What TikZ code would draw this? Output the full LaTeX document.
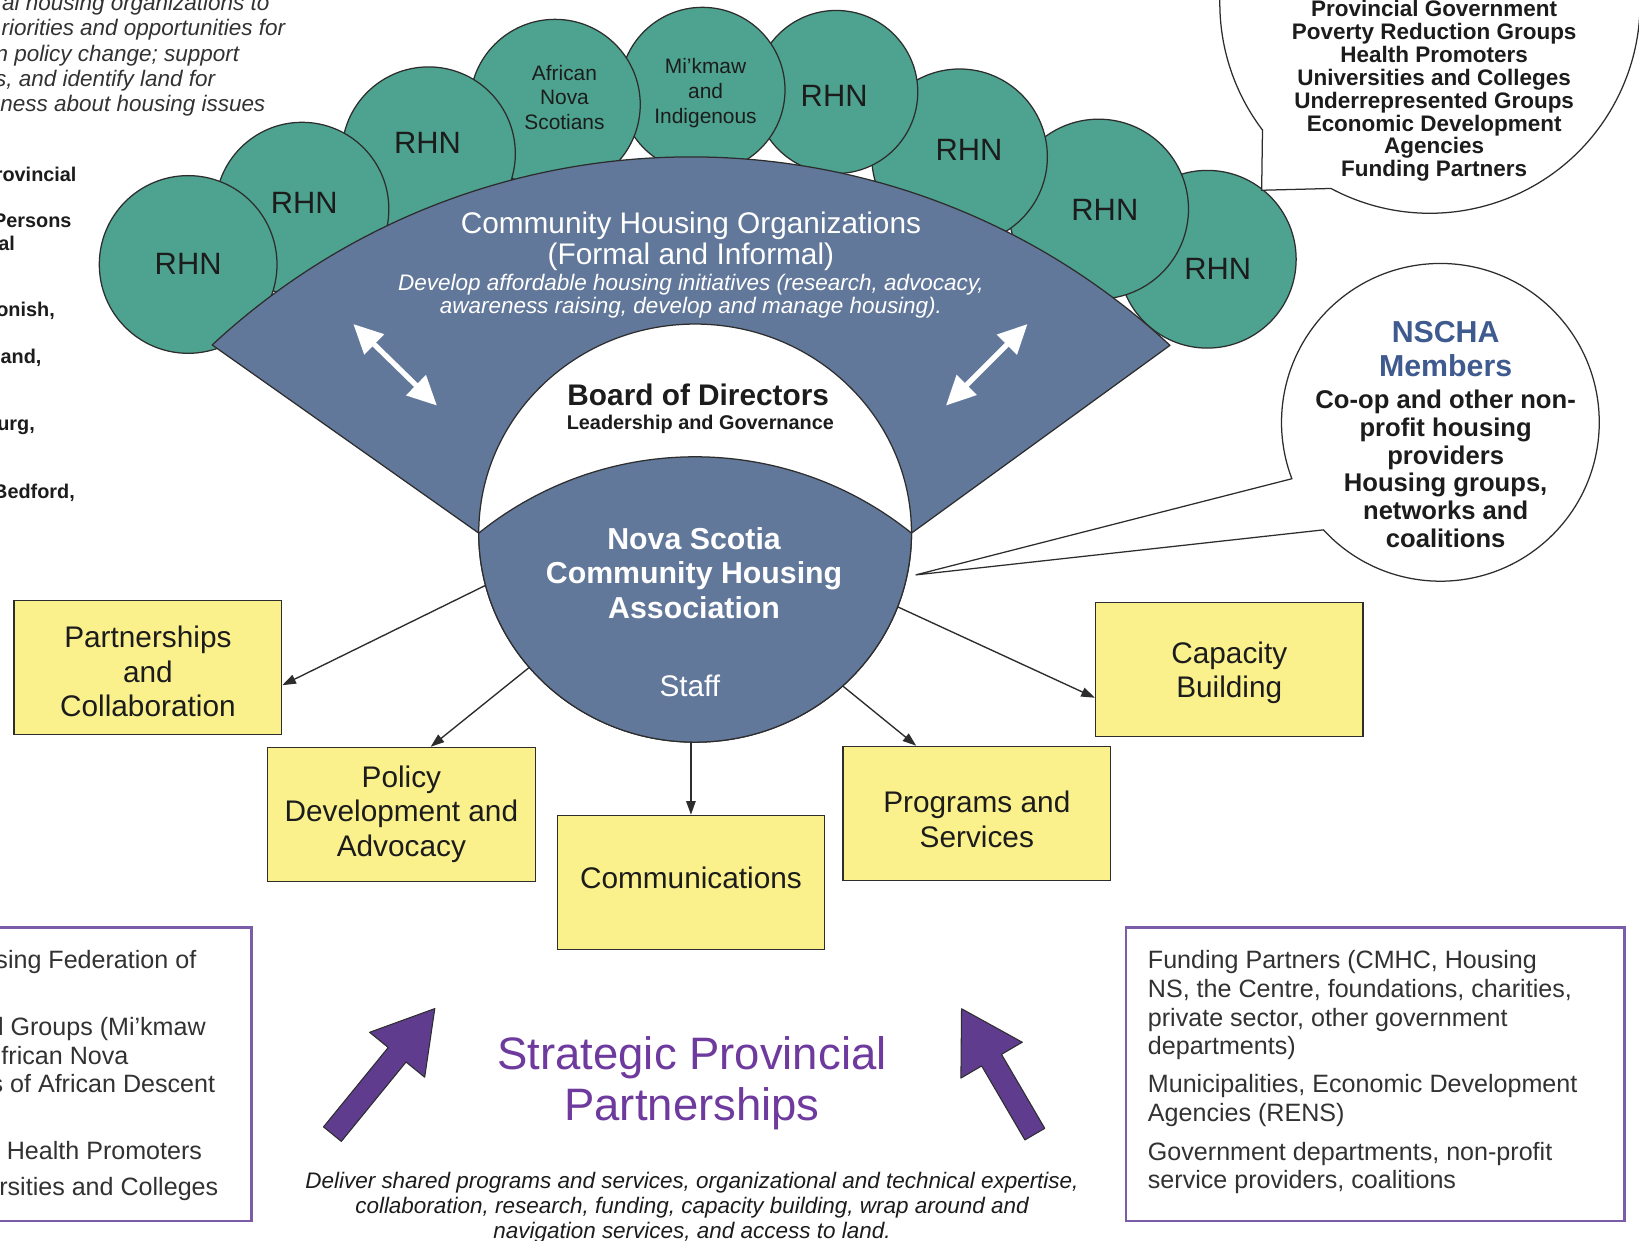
\documentclass[tikz,border=0pt]{standalone}
\usepackage{fontspec}
\setmainfont{Liberation Sans}
\usetikzlibrary{arrows.meta,shapes.geometric}
\definecolor{tealc}{RGB}{77,163,143}
\definecolor{fanblue}{RGB}{98,120,154}
\definecolor{yboxc}{RGB}{250,241,140}
\definecolor{parrc}{RGB}{95,60,142}
\definecolor{ptextc}{RGB}{110,58,158}
\definecolor{pboxc}{RGB}{122,92,168}
\definecolor{ntextc}{RGB}{62,90,142}
\definecolor{darkc}{RGB}{28,28,28}
\definecolor{edgec}{RGB}{45,45,45}
\definecolor{gtextc}{RGB}{50,50,50}
\newcommand{\myfs}[2]{\fontsize{#1}{#2}\selectfont}
\begin{document}
\begin{tikzpicture}[x=1pt,y=-1pt,
  rhn/.style={circle, draw=edgec, line width=1.2pt, fill=tealc, inner sep=0pt, outer sep=0pt},
  rhnt/.style={text=darkc, font=\myfs{29.5}{32}, inner sep=0pt},
  smallt/.style={text=darkc, font=\myfs{20}{23.5}, align=center, inner sep=0pt},
  ybx/.style={draw=edgec, line width=1.2pt, fill=yboxc, text=darkc, font=\myfs{28.5}{33}, align=center, minimum width=256, minimum height=128, inner sep=0pt},
  conn/.style={draw=edgec, line width=1.3pt, -{Triangle[length=13pt,width=9pt]}},
  warr/.style={white, line width=5pt, {Triangle[length=28pt,width=26pt]}-{Triangle[length=28pt,width=26pt]}},
  parrow/.style={fill=parrc, draw=edgec, line width=1pt, line join=round},
  bubble/.style={draw=edgec, line width=1.2pt, fill=white},
  pbx/.style={draw=pboxc, line width=2.5pt, inner sep=0pt},
  tli/.style={font=\itshape\myfs{21.5}{24}, text=gtextc, inner sep=0pt},
  tlb/.style={font=\bfseries\myfs{19}{21}, text=darkc, inner sep=0pt},
  bt/.style={font=\myfs{24}{27.3}, text=gtextc, inner sep=0pt}
]
\useasboundingbox (0,0) rectangle (1568,1187);
\fill[white] (0,0) rectangle (1568,1187);
\begin{scope}
\clip (0,0) rectangle (1568,1187);

% ---- top-left cut-off texts
\node[tli, anchor=base east] (tl1) at (258,10) {al housing organizations to};
\node[tli, anchor=base east] (tl2) at (273,34.2) {riorities and opportunities for};
\node[tli, anchor=base east] (tl3) at (229,58.4) {n policy change; support};
\node[tli, anchor=base east] (tl4) at (206,82.6) {s, and identify land for};
\node[tli, anchor=base east] (tl5) at (254,106.8) {ness about housing issues};

\node[tlb, anchor=base east] (lb1) at (73.4,173.8) {rovincial};
\node[tlb, anchor=base east] (lb2) at (68.6,217.8) {Persons};
\node[tlb, anchor=base east] (lb3) at (14.4,239.2) {al};
\node[tlb, anchor=base east] (lb4) at (52.6,303) {onish,};
\node[tlb, anchor=base east] (lb5) at (39.9,347.5) {and,};
\node[tlb, anchor=base east] (lb6) at (33.5,411.4) {urg,};
\node[tlb, anchor=base east] (lb7) at (71.8,476.6) {Bedford,};

% ---- RHN circles (back to front)
\node[rhn, minimum size=170] (c9) at (1155,248) {};
\node[rhn, minimum size=172] (c8) at (1051,200) {};
\node[rhn, minimum size=168] (c7) at (918,150) {};
\node[rhn, minimum size=156] (c6) at (800,88) {};
\node[rhn, minimum size=158] (c5) at (672,86) {};
\node[rhn, minimum size=163] (c4) at (531,100) {};
\node[rhn, minimum size=166] (c3) at (410,147) {};
\node[rhn, minimum size=166] (c2) at (289,200) {};
\node[rhn, minimum size=170] (c1) at (180,253) {};

\node[rhnt] (t9) at (1165,257) {RHN};
\node[rhnt] (t8) at (1057,201) {RHN};
\node[rhnt] (t7) at (927,143) {RHN};
\node[rhnt] (t6) at (798,92) {RHN};
\node[smallt] (t5) at (675,89) {Mi’kmaw\\and\\Indigenous};
\node[smallt] (t4) at (540,93) {African\\Nova\\Scotians};
\node[rhnt] (t3) at (409,137) {RHN};
\node[rhnt] (t2) at (291,194) {RHN};
\node[rhnt] (t1) at (180,252) {RHN};

% ---- fan of community housing organizations
\draw[draw=edgec, line width=1.2pt, fill=fanblue, line join=round]
  (203,330) arc[start angle=-132.9, end angle=-47.05, radius=672.7]
  -- (872,510) -- (458,510) -- cycle;

% ---- board (white) and NSCHA (blue lens)
\node[ellipse, draw=edgec, line width=1.2pt, fill=white, minimum width=414, minimum height=400, inner sep=0pt, outer sep=0pt] (nscha) at (665,510) {};
\draw[draw=edgec, line width=1.2pt, fill=fanblue, line join=round]
  (458,510) arc[start angle=-128.85, end angle=-51.15, radius=330]
  arc[start angle=0, end angle=180, x radius=207, y radius=200] -- cycle;

\node[text=white, font=\myfs{28.5}{30}, align=center, inner sep=0pt] (cho) at (661,231)
  {Community Housing Organizations\\(Formal and Informal)};
\node[text=white, font=\itshape\myfs{21.5}{22}, align=center, inner sep=0pt] (choi) at (661,283)
  {Develop affordable housing initiatives (research, advocacy,\\awareness raising, develop and manage housing).};
\node[text=darkc, font=\bfseries\myfs{28.5}{30}, inner sep=0pt] (bod) at (668,378) {Board of Directors};
\node[text=darkc, font=\bfseries\myfs{19}{21}, inner sep=0pt] (lead) at (670,406) {Leadership and Governance};
\node[text=white, font=\bfseries\myfs{29}{33}, align=center, inner sep=0pt] (nst) at (664,548)
  {Nova Scotia\\Community Housing\\Association};
\node[text=white, font=\myfs{28.5}{30}, inner sep=0pt] (staff) at (660,656) {Staff};

% ---- white double arrows
\coordinate (wa1) at (338,310); \coordinate (wa2) at (418,388);
\draw[warr] (wa1) -- (wa2);
\coordinate (wb1) at (983,310); \coordinate (wb2) at (905,388);
\draw[warr] (wb1) -- (wb2);

% ---- speech bubbles
\coordinate (tip1) at (1207,182);
\draw[bubble] (1207.8,124.2) -- (tip1) -- (1273.3,180.3)
  arc[start angle=118.1, end angle=-217.1, radius=201] -- cycle;
\node[text=darkc, font=\bfseries\myfs{21.5}{21.9}, align=center, inner sep=0pt] (partners) at (1372,87)
  {Provincial Government\\Poverty Reduction Groups\\Health Promoters\\Universities and Colleges\\Underrepresented Groups\\Economic Development\\Agencies\\Funding Partners};

\coordinate (tip2) at (876,550);
\draw[bubble] (tip2) -- (1266.1,506.9)
  arc[start angle=137.4, end angle=-200.8, radius=152] -- cycle;
\node[text=ntextc, font=\bfseries\myfs{29}{32}, align=center, inner sep=0pt] (memh) at (1383,334) {NSCHA\\Members};
\node[text=darkc, font=\bfseries\myfs{24.5}{26.5}, align=center, inner sep=0pt] (memt) at (1383,448.5)
  {Co-op and other non-\\profit housing\\providers\\Housing groups,\\networks and\\coalitions};

% ---- activity boxes
\node[ybx] (pc) at (141.5,638.5) {\rule{0pt}{28.8pt}Partnerships\\and\\Collaboration};
\node[ybx] (pol) at (384,779) {Policy\\Development and\\Advocacy};
\node[ybx] (com) at (661,844) {Communications\rule[-8pt]{0pt}{8pt}};
\node[ybx] (prog) at (934.5,778) {\rule{0pt}{32.8pt}Programs and\\Services};
\node[ybx] (cap) at (1176,640.5) {\rule{0pt}{26.8pt}Capacity\\Building};

\draw[conn] (nscha.194) -- ([yshift=-17pt]pc.east);
\draw[conn] (nscha.219) -- ([xshift=28pt]pol.north);
\draw[conn] (nscha.south -| com.north) -- (com.north);
\draw[conn] (nscha.314) -- ([xshift=-58pt]prog.north);
\draw[conn] (nscha.340) -- ([yshift=-27pt]cap.west);

% ---- bottom boxes
\node[pbx, minimum width=262, minimum height=281, anchor=north east] (lbox) at (242,886) {};
\node[bt, anchor=base east] (lt1) at (188,927) {sing Federation of};
\node[bt, anchor=base east] (lt2) at (197,991) {l Groups (Mi’kmaw};
\node[bt, anchor=base east] (lt3) at (123,1018) {frican Nova};
\node[bt, anchor=base east] (lt4) at (206,1045.5) {s of African Descent};
\node[bt, anchor=base east] (lt5) at (193.5,1109) {Health Promoters};
\node[bt, anchor=base east] (lt6) at (209,1144) {rsities and Colleges};

\node[pbx, minimum width=477, minimum height=281, anchor=north west] (rbox) at (1076,886) {};
\node[bt, anchor=base west] (rt1) at (1098,927) {Funding Partners (CMHC, Housing};
\node[bt, anchor=base west] (rt2) at (1098,954.3) {NS, the Centre, foundations, charities,};
\node[bt, anchor=base west] (rt3) at (1098,981.6) {private sector, other government};
\node[bt, anchor=base west] (rt4) at (1098,1008.9) {departments)};
\node[bt, anchor=base west] (rt5) at (1098,1045.2) {Municipalities, Economic Development};
\node[bt, anchor=base west] (rt6) at (1098,1072.5) {Agencies (RENS)};
\node[bt, anchor=base west] (rt7) at (1098,1110) {Government departments, non-profit};
\node[bt, anchor=base west] (rt8) at (1098,1137.3) {service providers, coalitions};

% ---- purple block arrows
\begin{scope}[shift={(318,1085)}, rotate=50.8]
  \draw[parrow] (0,-11) -- (98,-11) -- (98,-34) -- (155,0) -- (98,34) -- (98,11) -- (0,11) -- cycle;
\end{scope}
\begin{scope}[shift={(990,1085)}, rotate=120.3]
  \draw[parrow] (0,-11) -- (82,-11) -- (82,-34) -- (139,0) -- (82,34) -- (82,11) -- (0,11) -- cycle;
\end{scope}

\node[text=ptextc, font=\myfs{43.5}{49}, align=center, inner sep=0pt] (spp) at (662,1036)
  {Strategic Provincial\\Partnerships};
\node[text=darkc, font=\itshape\myfs{21.5}{24}, align=center, inner sep=0pt] (deliver) at (662,1155)
  {Deliver shared programs and services, organizational and technical expertise,\\collaboration, research, funding, capacity building, wrap around and\\navigation services, and access to land.};
\end{scope}
\end{tikzpicture}
\end{document}
